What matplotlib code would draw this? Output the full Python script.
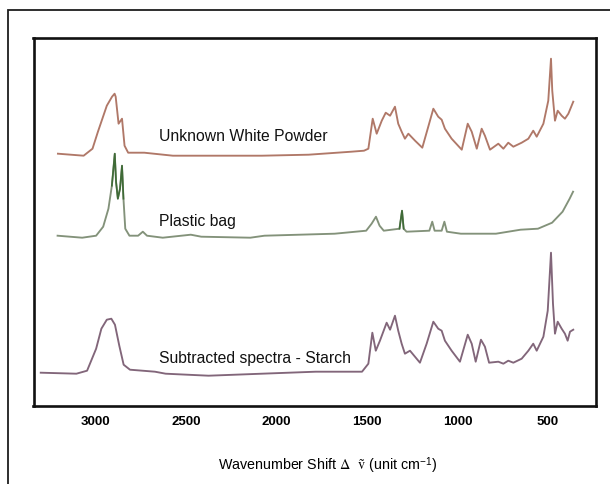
import matplotlib
matplotlib.use("Agg")
import matplotlib.pyplot as plt
from matplotlib.patches import Rectangle
import numpy as np

plt.rcParams['font.family'] = ['Liberation Sans', 'DejaVu Sans']
plt.rcParams['mathtext.fontset'] = 'stix'

# ---- data (wavenumber cm-1, relative intensity, arbitrary units) ----
powder_wn = [3207, 3065, 3016, 2986, 2937, 2908, 2894, 2888, 2872, 2853, 2839, 2819,
             2730, 2572, 2278, 2080, 1822, 1586, 1516, 1492, 1468, 1446, 1418, 1396,
             1372, 1345, 1327, 1308, 1290, 1271, 1234, 1194, 1161, 1133, 1106, 1087,
             1069, 1032, 976, 943, 921, 893, 866, 848, 820, 774, 746, 719, 691, 645,
             608, 581, 562, 525, 498, 483, 476, 461, 446, 424, 406, 387, 360]
powder_int = [2, 0, 7, 24, 50, 59, 62, 59, 32, 37, 10, 3,
              3, 0, 0, 0, 1, 4, 5, 7, 37, 22, 35, 43,
              40, 49, 32, 24, 17, 22, 15, 8, 29, 47, 39, 36,
              27, 17, 6, 32, 24, 7, 27, 20, 6, 12, 7, 13, 9, 13,
              17, 25, 19, 32, 55, 97, 65, 35, 45, 40, 37, 42, 54]

bag_wn = [3209, 3073, 2996, 2957, 2928, 2909, 2893, 2886, 2876, 2864, 2853, 2845,
          2835, 2812, 2764, 2738, 2715, 2628, 2473, 2415, 2144, 2066, 1678, 1504,
          1474, 1450, 1430, 1407, 1320, 1306, 1297, 1281, 1155, 1139, 1126, 1087,
          1072, 1058, 981, 787, 651, 555, 477, 419, 380, 361]
bag_int = [0, -2, 0, 9, 27, 50, 82, 54, 37, 47, 70, 37,
           7, 0, 0, 4, 0, -2, 1, -1, -2, 0, 2, 5,
           12, 19, 10, 5, 7, 25, 7, 4, 5, 14, 5, 5,
           14, 4, 2, 2, 6, 7, 13, 24, 37, 44]

starch_wn = [3302, 3105, 3046, 2996, 2967, 2937, 2912, 2892, 2868, 2844, 2809, 2671,
             2612, 2375, 2080, 1783, 1527, 1492, 1470, 1451, 1428, 1391, 1372, 1345,
             1327, 1308, 1290, 1262, 1207, 1170, 1133, 1106, 1087, 1069, 1032, 986,
             943, 921, 899, 870, 848, 825, 774, 746, 719, 691, 645, 608, 581, 562,
             525, 501, 483, 472, 461, 446, 424, 406, 391, 378, 360]
starch_int = [1, 0, 3, 25, 45, 54, 55, 49, 28, 9, 4, 2,
              0, -2, 0, 2, 2, 10, 41, 23, 33, 51, 44, 58,
              43, 30, 20, 23, 11, 30, 52, 45, 43, 33, 23, 12,
              39, 30, 12, 34, 27, 11, 12, 10, 13, 11, 15, 23, 30, 23,
              37, 63, 121, 70, 40, 52, 45, 40, 33, 42, 44]

series_names = ["Unknown White Powder", "Plastic bag", "Subtracted spectra - Starch"]
offsets = [250, 170, 32]
tick_values = [3000, 2500, 2000, 1500, 1000, 500]
xlabel = r"Wavenumber Shift $\Delta$  $\tilde{\mathrm{v}}$ (unit cm$^{\mathregular{-1}}$)"

# ---- figure ----
W, H = 610, 485
fig = plt.figure(figsize=(W / 100, H / 100), dpi=100)
fig.patch.set_facecolor('white')

# outer frame (left and top edges visible)
fig.patches.append(Rectangle((8 / W, -0.2), 1.5, (H - 10.7) / H + 0.2,
                             transform=fig.transFigure, fill=False,
                             edgecolor='#1e1e1e', linewidth=1.3, zorder=0))

ax = fig.add_axes([33.5 / W, (H - 406.7) / H, (595.7 - 33.5) / W, (406.7 - 38.7) / H])

c_powder = '#b07868'
c_bag = '#83927a'
c_bag_dark = '#3f6b37'
c_starch = '#82667a'

ax.plot(powder_wn, np.array(powder_int) + offsets[0], color=c_powder, lw=1.35)
bw = np.array(bag_wn)
bi = np.array(bag_int) + offsets[1]
ax.plot(bw, bi, color=c_bag, lw=1.35)
sel1 = (bw <= 2909) & (bw >= 2845)
sel2 = (bw <= 1320) & (bw >= 1297)
ax.plot(bw[sel1], bi[sel1], color=c_bag_dark, lw=1.2)
ax.plot(bw[sel2], bi[sel2], color=c_bag_dark, lw=1.2)
ax.plot(starch_wn, np.array(starch_int) + offsets[2], color=c_starch, lw=1.35)

label_y = [270, 185, 48]
for name, yy in zip(series_names, label_y):
    ax.text(2649, yy, name, fontsize=11.3, va='center', ha='left', color='#111111')

ax.set_xlim(3342, 236)
ax.set_ylim(0, 368)
ax.set_yticks([])
ax.set_xticks(tick_values)
ax.set_xticklabels([str(t) for t in tick_values], fontweight='bold', fontsize=9.5)
ax.tick_params(axis='x', length=0, pad=7)
for s in ax.spines.values():
    s.set_linewidth(1.9)
    s.set_color('#111111')

fig.text(328 / W, (H - 466) / H, xlabel, ha='center', va='center', fontsize=10.3)

fig.savefig('out.png', dpi=100)
